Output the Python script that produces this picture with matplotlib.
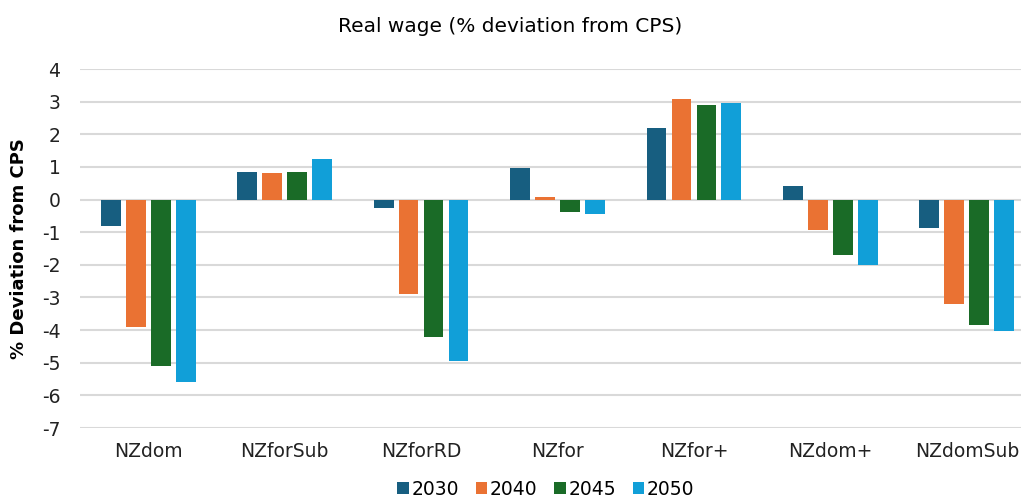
import numpy as np
from matplotlib import pyplot as plt

categories = ["NZdom", "NZforSub", "NZforRD", "NZfor", "NZfor+", "NZdom+", "NZdomSub"]
years = ["2030", "2040", "2045", "2050"]
v2030 = [-0.82, 0.84, -0.25, 0.97, 2.2, 0.42, -0.87]
v2040 = [-3.9, 0.80, -2.9, 0.08, 3.07, -0.93, -3.2]
v2045 = [-5.1, 0.85, -4.2, -0.38, 2.9, -1.7, -3.85]
v2050 = [-5.6, 1.23, -4.95, -0.45, 2.97, -2.02, -4.03]
series = [v2030, v2040, v2045, v2050]
colors = ["#175E80", "#EA7233", "#1A6B27", "#119FD8"]

plt.rcParams["font.family"] = ["DejaVu Sans"]
plt.rcParams["axes.unicode_minus"] = False

fig = plt.figure(figsize=(10.21, 4.98), dpi=100)
ax = fig.add_axes([80 / 1021, 1 - 428 / 498, 955 / 1021, 359 / 498])

x = np.arange(len(categories))
step = 0.183
for i, vals in enumerate(series):
    ax.bar(x + (i - 1.5) * step, vals, width=0.145, color=colors[i],
           label=years[i], zorder=3)

ax.set_xlim(-0.5, len(categories) - 0.5)
ax.set_ylim(-7, 4)
ax.set_yticks(range(-7, 5))
ax.set_xticks(x)
ax.set_xticklabels(categories)
ax.tick_params(axis="both", length=0, labelsize=13.5, colors="#222222")
ax.tick_params(axis="y", pad=14)
ax.tick_params(axis="x", pad=10)
ax.yaxis.grid(True, color="#D9D9D9", linewidth=1.5, zorder=0)
for s in ax.spines.values():
    s.set_visible(False)

ax.set_ylabel("% Deviation from CPS", fontsize=13, fontweight="bold", labelpad=10)
fig.text(510 / 1021, 1 - 27 / 498, "Real wage (% deviation from CPS)",
         ha="center", va="center", fontsize=14.5)

fig.legend(loc="center", bbox_to_anchor=(546 / 1021, 1 - 489 / 498), ncol=4,
           frameon=False, fontsize=13.5, handlelength=0.6, handleheight=0.6,
           handletextpad=0.15, columnspacing=0.9)

fig.savefig("out.png", dpi=100)
